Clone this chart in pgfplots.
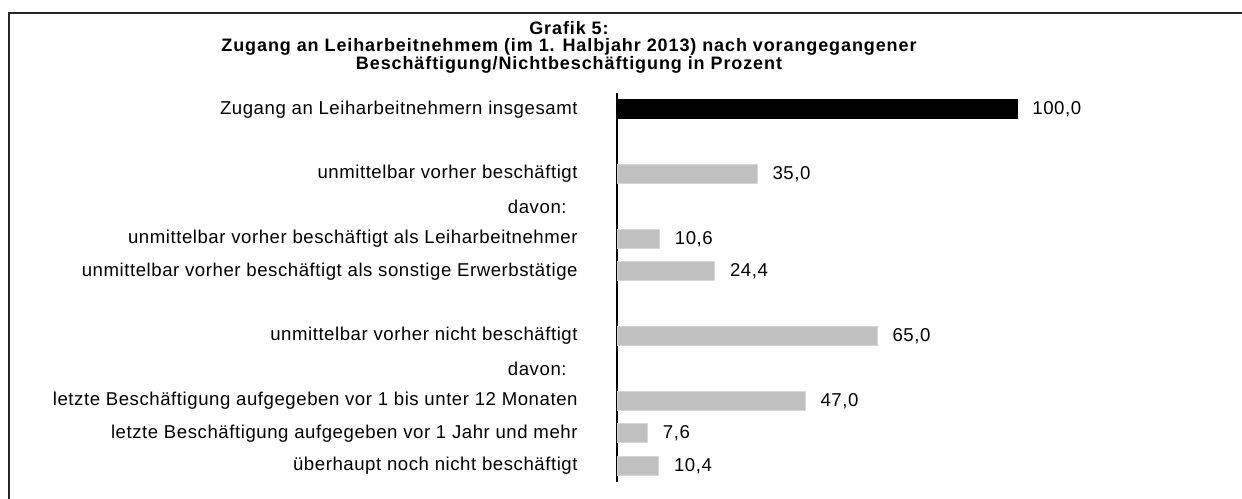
\documentclass[border=0pt]{standalone}
\usepackage{fontspec}
\setmainfont{Liberation Sans}
\newfontfamily\lab{Liberation Sans}[LetterSpace=3]
\newfontfamily\tit{Liberation Sans}[LetterSpace=5]
\usepackage{pgfplots}
\pgfplotsset{compat=1.18}
\definecolor{bargray}{RGB}{192,192,192}
\definecolor{baredge}{RGB}{214,214,214}
\begin{document}
\begin{tikzpicture}
\useasboundingbox (0,0) rectangle (621pt,249pt);
\draw[line width=0.8pt, black!85] (4.5pt,-2pt) -- (4.5pt,242.5pt) -- (623pt,242.5pt);
\node[anchor=base, font=\tit\fontsize{9}{9}\selectfont\bfseries] at (284.5pt,231.5pt) {Grafik 5:};
\node[anchor=base, font=\tit\fontsize{9}{9}\selectfont\bfseries] at (284.5pt,223pt) {Zugang an Leiharbeitnehmem (im 1. Halbjahr 2013) nach vorangegangener};
\node[anchor=base, font=\tit\fontsize{9}{9}\selectfont\bfseries] at (284.5pt,214pt) {Beschäftigung/Nichtbeschäftigung in Prozent};
\begin{axis}[
  at={(308.5pt,8pt)}, anchor=south west,
  scale only axis, width=200pt, height=194.5pt,
  xbar, bar width=9.5pt, bar shift=0pt,
  xmin=0, xmax=100, ymin=-0.5, ymax=11.5, y dir=reverse,
  axis x line=none, axis y line*=left,
  y axis line style={line width=0.8pt, -},
  ytick={0,...,11},
  yticklabels={Zugang an Leiharbeitnehmern insgesamt,{},unmittelbar vorher beschäftigt,davon:\hspace*{5.5pt},unmittelbar vorher beschäftigt als Leiharbeitnehmer,unmittelbar vorher beschäftigt als sonstige Erwerbstätige,{},unmittelbar vorher nicht beschäftigt,davon:\hspace*{5.5pt},letzte Beschäftigung aufgegeben vor 1 bis unter 12 Monaten,letzte Beschäftigung aufgegeben vor 1 Jahr und mehr,überhaupt noch nicht beschäftigt},
  ytick style={draw=none}, major tick length=0pt,
  yticklabel style={font=\lab\fontsize{9.3}{10}\selectfont, anchor=east, inner sep=0pt, xshift=-19.5pt},
  clip=false,
  nodes near coords,
  nodes near coords style={font=\lab\fontsize{9.3}{10}\selectfont, anchor=west, inner sep=0pt, xshift=7.5pt,
    /pgf/number format/.cd, fixed, fixed zerofill, precision=1, use comma, assume math mode=true},
]
\addplot[fill=black, draw=black] coordinates {(100.0,0)};
\addplot[fill=bargray, draw=baredge, line width=0.5pt] coordinates {(35.0,2) (10.6,4) (24.4,5) (65.0,7) (47.0,9) (7.6,10) (10.4,11)};
\end{axis}
\end{tikzpicture}
\end{document}
